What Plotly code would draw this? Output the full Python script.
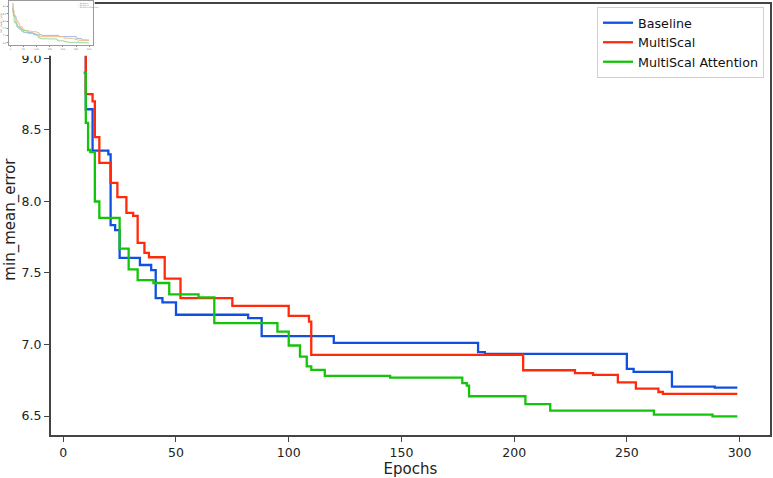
import plotly.graph_objects as go

# ---- data ----
epochs_baseline = [9, 10, 13, 20, 21, 23, 25, 34, 39, 41, 44, 50, 82, 88, 120, 184, 187, 250, 253, 270, 289, 299]
baseline = [9.15, 8.645, 8.355, 8.33, 7.835, 7.80, 7.605, 7.556, 7.52, 7.324, 7.294, 7.208, 7.185, 7.058,
            7.012, 6.947, 6.935, 6.83, 6.808, 6.706, 6.699, 6.699]

epochs_multiscal = [9, 10, 13, 14, 16, 21, 24, 28, 31, 33, 36, 38, 45, 52, 75, 100, 109, 110, 204, 227, 235,
                    246, 254, 264, 266, 299]
multiscal = [9.24, 8.75, 8.70, 8.45, 8.27, 8.13, 8.03, 7.92, 7.90, 7.71, 7.64, 7.61, 7.46, 7.324, 7.27, 7.20,
             7.16, 6.927, 6.82, 6.80, 6.787, 6.735, 6.692, 6.668, 6.655, 6.655]

epochs_attention = [9, 10, 11, 12, 14, 16, 25, 29, 33, 40, 47, 60, 67, 95, 100, 105, 108, 110, 116, 145, 177,
                    179, 180, 205, 216, 262, 288, 299]
attention = [8.9, 8.55, 8.36, 8.345, 8.0, 7.885, 7.67, 7.525, 7.45, 7.43, 7.35, 7.33, 7.15, 7.09, 6.993, 6.915,
             6.847, 6.822, 6.78, 6.769, 6.73, 6.712, 6.638, 6.583, 6.537, 6.509, 6.498, 6.498]

series_names = ["Baseline", "MultiScal", "MultiScal Attention"]
main_colors = ["#0f50e0", "#ff2a0a", "#14c40a"]
thumb_colors = ["#8fb8e8", "#f7b48a", "#8fd48f"]
x_ticks = [0, 50, 100, 150, 200, 250, 300]
y_ticks = [6.5, 7.0, 7.5, 8.0, 8.5, 9.0]

W, H = 773, 478
FONT = "DejaVu Sans"

series = [(epochs_baseline, baseline), (epochs_multiscal, multiscal), (epochs_attention, attention)]

fig = go.Figure()

# main traces
for (ex, ey), name, col in zip(series, series_names, main_colors):
    fig.add_trace(go.Scatter(x=ex, y=ey, mode="lines", name=name, line=dict(color=col, width=2.3, shape="hv"),
                             xaxis="x", yaxis="y"))

# white backdrop of the thumbnail (empty subplot)
fig.add_trace(go.Scatter(x=[0], y=[0], mode="markers", marker=dict(opacity=0), showlegend=False,
                         hoverinfo="skip", xaxis="x2", yaxis="y2"))

# thumbnail traces
for (ex, ey), name, col in zip(series, series_names, thumb_colors):
    fig.add_trace(go.Scatter(x=ex, y=ey, mode="lines", name=name, line=dict(color=col, width=0.9, shape="hv"),
                             xaxis="x3", yaxis="y3", showlegend=False))

yr = [6.366, 9.381]
xr = [-5.5, 313.5]


def fx(p):
    return p / W


def fy(p):
    return 1 - p / H


# tiny legend of the thumbnail as text
annotations = []
for i, (name, col) in enumerate(zip(series_names, thumb_colors)):
    annotations.append(dict(
        xref="paper", yref="paper", x=fx(73), y=fy(3.2 + i * 2.2), xanchor="left", yanchor="middle",
        text=f"<span style='color:{col}'>\u2014</span> {name}", showarrow=False,
        font=dict(size=2, color="#888", family=FONT)))

fig.update_layout(
    width=W, height=H,
    margin=dict(l=0, r=0, t=0, b=0),
    paper_bgcolor="white", plot_bgcolor="white",
    font=dict(family=FONT, size=12.5, color="#222"),
    xaxis=dict(range=xr, domain=[fx(49), fx(770)], anchor="y", tickvals=x_ticks, ticks="outside", ticklen=5,
               tickcolor="#444", showline=True, linecolor="#444", linewidth=1.8, mirror=True,
               showgrid=False, zeroline=False, title=dict(text="Epochs", standoff=7),
               tickfont=dict(size=12.5)),
    yaxis=dict(range=yr, domain=[fy(437), fy(4)], anchor="x", tickvals=y_ticks, tickformat=".1f", ticks="outside",
               ticklen=5, tickcolor="#444", showline=True, linecolor="#444", linewidth=1.8, mirror=True,
               showgrid=False, zeroline=False, title=dict(text="min_mean_error", standoff=2),
               tickfont=dict(size=12.5)),
    xaxis2=dict(domain=[0, fx(93)], anchor="y2", range=[0, 1],
                showticklabels=False, showgrid=False, zeroline=False, showline=False, ticks=""),
    yaxis2=dict(domain=[fy(56), 1], anchor="x2", range=[-1, 1], showticklabels=False, showgrid=False,
                zeroline=False, showline=False, ticks=""),
    xaxis3=dict(domain=[fx(7), fx(91)], anchor="y3", range=xr, tickvals=x_ticks, ticks="outside",
                ticklen=1, tickwidth=0.4, tickcolor="#888", showline=True, linecolor="#999", linewidth=0.5,
                mirror=True, showgrid=False, zeroline=False, tickfont=dict(size=2.5, color="#777")),
    yaxis3=dict(domain=[fy(45), fy(1)], anchor="x3", range=yr, tickvals=y_ticks, tickformat=".1f",
                ticks="outside", ticklen=1, tickwidth=0.4, tickcolor="#888", showline=True, linecolor="#999",
                linewidth=0.5, mirror=True, showgrid=False, zeroline=False,
                tickfont=dict(size=2.5, color="#777"),
                title=dict(text="min_mean_error", font=dict(size=2.5, color="#777"), standoff=1)),
    legend=dict(x=fx(764), y=fy(7), xanchor="right", yanchor="top", bgcolor="white",
                bordercolor="#d0d0d0", borderwidth=1, font=dict(size=12.7, family=FONT, color="#111"),
                itemwidth=30),
    annotations=annotations,
    showlegend=True,
)

fig.write_html("out.html")
